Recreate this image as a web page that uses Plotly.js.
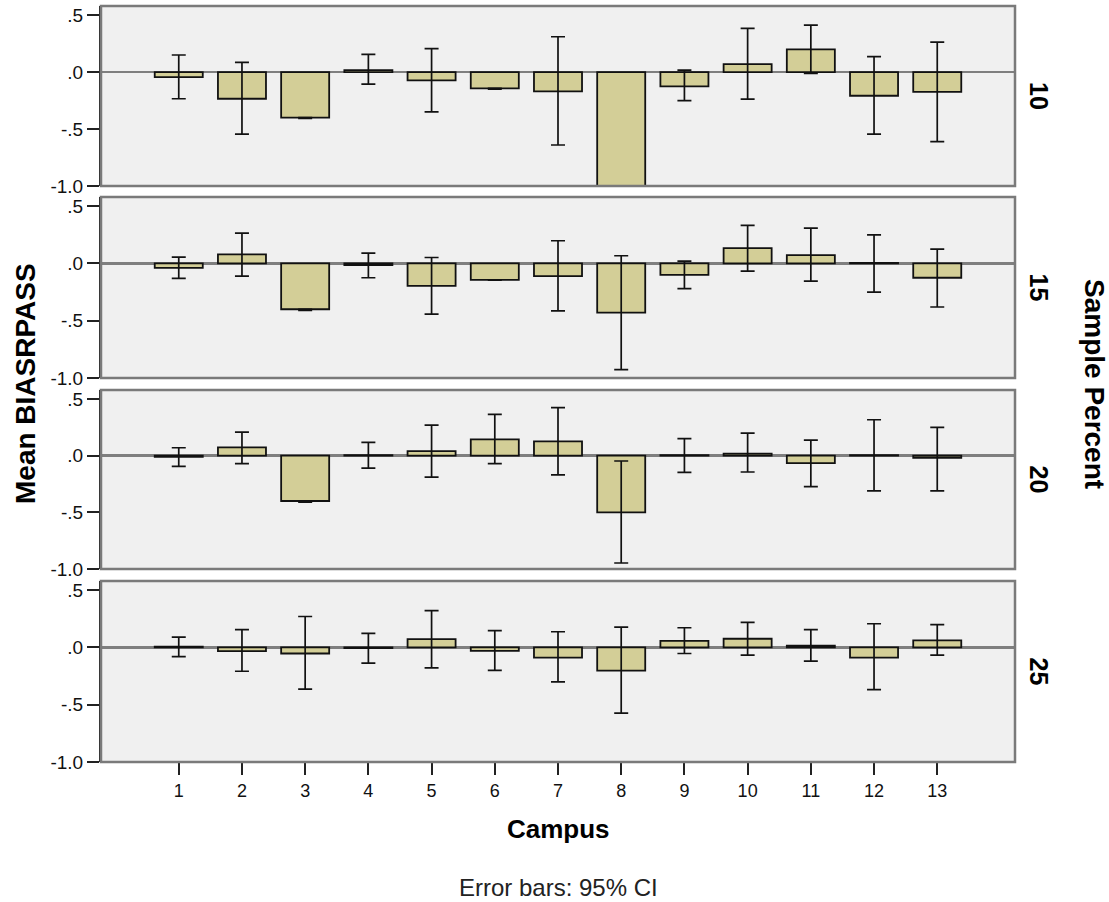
<!DOCTYPE html>
<html>
<head>
<meta charset="utf-8">
<script src="https://cdn.plot.ly/plotly-3.0.1.min.js"></script>
<style>html,body{margin:0;padding:0;background:#fff;}#chart{width:1109px;height:902px;}</style>
</head>
<body>
<div id="chart"></div>
<script>
// ---- data ----
var campus = [1,2,3,4,5,6,7,8,9,10,11,12,13];
var samplePercents = ["10","15","20","25"];

var mean10 = [-0.044,-0.234,-0.40, 0.018,-0.073,-0.143,-0.17,-1.0,-0.126, 0.07, 0.2,-0.208,-0.173];
var lo10   = [-0.234,-0.544,-0.406,-0.105,-0.35,-0.15,-0.64,-1.0,-0.25,-0.237,-0.012,-0.544,-0.61];
var hi10   = [ 0.15, 0.085,-0.40, 0.155, 0.205,-0.143, 0.31,-1.0, 0.018, 0.383, 0.412, 0.135, 0.263];

var mean15 = [-0.038, 0.079,-0.40,-0.015,-0.195,-0.143,-0.11,-0.43,-0.10, 0.134, 0.073, 0.004,-0.125];
var lo15   = [-0.13,-0.11,-0.41,-0.125,-0.443,-0.146,-0.414,-0.927,-0.219,-0.067,-0.155,-0.25,-0.38];
var hi15   = [ 0.055, 0.265,-0.40, 0.09, 0.052,-0.143, 0.198, 0.067, 0.02, 0.332, 0.309, 0.25, 0.125];

var mean20 = [-0.01, 0.073,-0.40, 0.004, 0.041, 0.144, 0.126,-0.50, 0.004, 0.018,-0.065, 0.004,-0.018];
var lo20   = [-0.094,-0.07,-0.41,-0.109,-0.19,-0.07,-0.17,-0.947,-0.147,-0.144,-0.273,-0.31,-0.31];
var hi20   = [ 0.07, 0.208,-0.40, 0.117, 0.27, 0.364, 0.425,-0.047, 0.15, 0.2, 0.138, 0.317, 0.25];

var mean25 = [ 0.008,-0.032,-0.053,-0.006, 0.073,-0.03,-0.088,-0.202, 0.058, 0.076, 0.015,-0.088, 0.061];
var lo25   = [-0.08,-0.208,-0.363,-0.137,-0.178,-0.2,-0.3,-0.573,-0.053,-0.067,-0.12,-0.368,-0.067];
var hi25   = [ 0.09, 0.155, 0.27, 0.123, 0.322, 0.146, 0.137, 0.178, 0.172, 0.219, 0.155, 0.207, 0.2];

var yTickVals = [-1.0,-0.5,0,0.5];
var yTickText = ["-1.0","-.5",".0",".5"];

// ---- build ----
var means = [mean10, mean15, mean20, mean25];
var los = [lo10, lo15, lo20, lo25];
var his = [hi10, hi15, hi20, hi25];

var FONT = "Liberation Sans, Arial, sans-serif";
var barColor = "#D3CE97";
var traces = [];
for (var p = 0; p < 4; p++) {
  var m = means[p];
  var up = m.map(function(v,i){ return Math.max(0, his[p][i]-v); });
  var dn = m.map(function(v,i){ return Math.max(0, v-los[p][i]); });
  traces.push({
    type: "bar",
    x: campus,
    y: m,
    xaxis: p === 0 ? "x" : "x" + (p+1),
    yaxis: p === 0 ? "y" : "y" + (p+1),
    width: 0.76,
    marker: {color: barColor, line: {color: "#111", width: 1.8}},
    error_y: {type: "data", symmetric: false, array: up, arrayminus: dn,
              color: "#111", thickness: 1.7, width: 7},
    hoverinfo: "skip",
    showlegend: false
  });
}

// panel domains (fraction of plot height)
var domains = [[0.7619,1.0],[0.5079,0.7474],[0.2553,0.4921],[0.0,0.2394]];

var layout = {
  width: 1109, height: 902,
  margin: {l: 101, r: 94, t: 6, b: 140},
  paper_bgcolor: "#ffffff",
  plot_bgcolor: "#F0F0F0",
  font: {family: FONT, color: "#000", size: 18},
  showlegend: false,
  bargap: 0,
  shapes: [],
  annotations: []
};

for (var p = 0; p < 4; p++) {
  var xa = p === 0 ? "xaxis" : "xaxis" + (p+1);
  var ya = p === 0 ? "yaxis" : "yaxis" + (p+1);
  var xid = p === 0 ? "x" : "x" + (p+1);
  var yid = p === 0 ? "y" : "y" + (p+1);
  var isBottom = (p === 3);
  layout[xa] = {
    domain: [0,1],
    anchor: yid,
    range: [-0.23, 14.23],
    tickvals: campus,
    ticktext: campus.map(String),
    showticklabels: isBottom,
    ticks: isBottom ? "outside" : "",
    ticklen: 12, tickwidth: 2, tickcolor: "#222",
    tickfont: {family: FONT, size: 18, color: "#111"},
    showgrid: false, zeroline: false, showline: false,
    fixedrange: true
  };
  layout[ya] = {
    domain: domains[p],
    anchor: xid,
    range: [-1.0, 0.58],
    tickvals: yTickVals,
    ticktext: yTickText,
    ticks: "outside", ticklen: 12, tickwidth: 2, tickcolor: "#222",
    tickfont: {family: FONT, size: 19, color: "#111"},
    showgrid: false,
    zeroline: true, zerolinecolor: "#7f7f7f", zerolinewidth: 2.5,
    showline: true, linecolor: "#222", linewidth: 2,
    fixedrange: true
  };
  layout.shapes.push({
    type: "rect", xref: xid + " domain", yref: yid + " domain",
    x0: 0, x1: 1, y0: 0, y1: 1,
    line: {color: "#7a7a7a", width: 2.5}, fillcolor: "rgba(0,0,0,0)", layer: "above"
  });
  layout.annotations.push({
    text: "<b>" + samplePercents[p] + "</b>",
    xref: "paper", yref: "paper",
    x: 1, xshift: 24, y: (domains[p][0]+domains[p][1])/2,
    xanchor: "center", yanchor: "middle",
    textangle: 90, showarrow: false,
    font: {family: FONT, size: 25, color: "#000"}
  });
}

layout.annotations.push({
  text: "<b>Sample Percent</b>", xref: "paper", yref: "paper",
  x: 1, xshift: 80, y: 0.5, xanchor: "center", yanchor: "middle",
  textangle: 90, showarrow: false, font: {family: FONT, size: 28, color: "#000"}
});
layout.annotations.push({
  text: "<b>Mean BIASRPASS</b>", xref: "paper", yref: "paper",
  x: 0, xshift: -76, y: 0.5, xanchor: "center", yanchor: "middle",
  textangle: -90, showarrow: false, font: {family: FONT, size: 28, color: "#000"}
});
layout.annotations.push({
  text: "<b>Campus</b>", xref: "paper", yref: "paper",
  x: 0.5, y: 0, yshift: -67, xanchor: "center", yanchor: "middle",
  showarrow: false, font: {family: FONT, size: 26, color: "#000"}
});
layout.annotations.push({
  text: "Error bars: 95% CI", xref: "paper", yref: "paper",
  x: 0.5, y: 0, yshift: -125, xanchor: "center", yanchor: "middle",
  showarrow: false, font: {family: FONT, size: 24, color: "#222"}
});

Plotly.newPlot("chart", traces, layout, {displayModeBar: false, staticPlot: true});
</script>
</body>
</html>
